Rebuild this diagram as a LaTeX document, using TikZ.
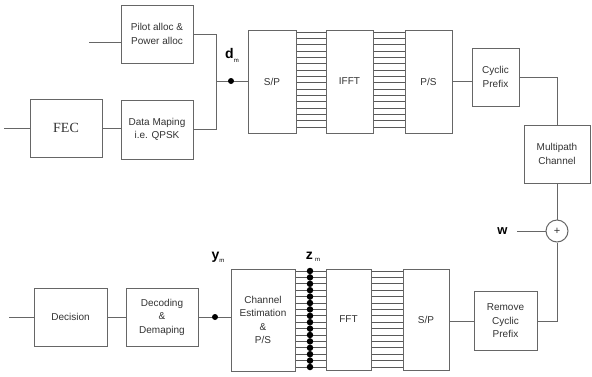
\documentclass[tikz,border=0pt]{standalone}
\usepackage{fontspec}
\setmainfont{Liberation Sans}
\newfontfamily\serifft{Liberation Serif}
\begin{document}
\begin{tikzpicture}[x=1pt,y=-1pt,
  line width=0.9pt,
  every node/.style={text=black!80},
  box/.style={draw=black!60, line width=1pt, fill=white, align=center, inner sep=1pt,
     font=\fontsize{10}{13.5}\selectfont},
  wire/.style={draw=black!60, line width=1pt},
  bus/.style={draw=black!65, line width=0.9pt},
  lbl/.style={inner sep=0pt, text=black, font=\fontsize{14}{14}\selectfont\bfseries},
  dot/.style={circle, fill=black, inner sep=0pt, minimum size=6pt}]
\useasboundingbox (0,0) rectangle (592,376);
\fill[white] (0,0) rectangle (592,376);

% transmitter
\node[box, minimum width=72pt, minimum height=58pt] (pilot) at (157,34) {Pilot alloc \&\\Power alloc};
\node[box, minimum width=72pt, minimum height=58pt, font=\serifft\fontsize{14}{14}\selectfont] (fec) at (66,128) {FEC};
\node[box, minimum width=72pt, minimum height=59pt] (map) at (157,129.5) {Data Maping\\i.e. QPSK};
\node[box, minimum width=48pt, minimum height=103pt] (sp1) at (272,81.5) {S/P};
\node[box, minimum width=47pt, minimum height=103pt] (ifft) at (349.5,81.5) {IFFT};
\node[box, minimum width=47pt, minimum height=103pt] (ps1) at (428.5,81.5) {P/S};
\node[box, minimum width=47pt, minimum height=58pt] (cp) at (495.5,77) {Cyclic\\Prefix};
\node[box, minimum width=66pt, minimum height=58pt] (mc) at (557,154) {Multipath\\Channel};
\node[circle, draw=black!60, line width=1pt, minimum size=22pt, inner sep=0pt, font=\fontsize{11}{11}\selectfont] (plus) at (557,231) {+};

% receiver
\node[box, minimum width=63pt, minimum height=59pt] (rcp) at (505.5,321) {Remove\\Cyclic\\Prefix};
\node[box, minimum width=46pt, minimum height=101pt] (sp2) at (426,319.5) {S/P};
\node[box, minimum width=45pt, minimum height=101pt] (fft) at (348.5,319.5) {FFT};
\node[box, minimum width=64pt, minimum height=102pt] (ce) at (263,320) {Channel\\Estimation\\\&\\P/S};
\node[box, minimum width=72pt, minimum height=58pt] (dd) at (162,317) {Decoding\\\&\\Demaping};
\node[box, minimum width=73pt, minimum height=58pt] (dec) at (70.5,317) {Decision};

% coordinates
\coordinate (pin) at (89,42);
\coordinate (fin) at (4,128);
\coordinate (j) at (216,81);
\coordinate (wl) at (517,231);
\coordinate (out) at (9,317);

% transmitter wires
\draw[wire] (pin) -- (pin -| pilot.west);
\draw[wire] (fin) -- (fec.west);
\draw[wire] (fec.east) -- (fec.east -| map.west);
\draw[wire] (pilot.east) -| (j);
\draw[wire] (map.east) -| (j);
\draw[wire] (j) -- (j -| sp1.west);
\node[dot] (dm) at (231,81) {};
\node[lbl, anchor=south] (dlab) at (232,63) {d\raisebox{-4pt}{\fontsize{6}{6}\selectfont\mdseries m}};

\foreach \i in {0,...,15} {
  \pgfmathsetmacro{\yy}{32+\i*6.33}
  \draw[bus] (sp1.east |- 0,\yy) -- (ifft.west |- 0,\yy);
  \draw[bus] (ifft.east |- 0,\yy) -- (ps1.west |- 0,\yy);
}
\draw[wire] (ps1.east) -- (ps1.east -| cp.west);
\draw[wire] (cp.east) -| (mc.north);
\draw[wire] (mc.south) -- (plus.north);
\node[lbl, anchor=east, font=\fontsize{13}{13}\selectfont\bfseries] (w) at (508,231) {w};
\draw[wire] (wl) -- (plus.west);

% receiver wires
\draw[wire] (plus.south) |- (rcp.east);
\draw[wire] (rcp.west) -- (rcp.west -| sp2.east);
\foreach \i in {0,...,15} {
  \pgfmathsetmacro{\yy}{271+\i*6.4}
  \draw[bus] (sp2.west |- 0,\yy) -- (fft.east |- 0,\yy);
  \draw[bus] (fft.west |- 0,\yy) -- (ce.east |- 0,\yy);
  \node[dot, minimum size=6.5pt] at (310,\yy) {};
}
\node[lbl, anchor=south] (zlab) at (313,262) {z\,\raisebox{-2pt}{\fontsize{6}{6}\selectfont\mdseries m}};
\draw[wire] (dd.east) -- (dd.east -| ce.west);
\node[dot] (ym) at (215,317) {};
\node[lbl, anchor=south] (ylab) at (218,263) {y\raisebox{-3pt}{\fontsize{6}{6}\selectfont\mdseries m}};
\draw[wire] (dec.east) -- (dd.west);
\draw[wire] (dec.west) -- (out);
\end{tikzpicture}
\end{document}
